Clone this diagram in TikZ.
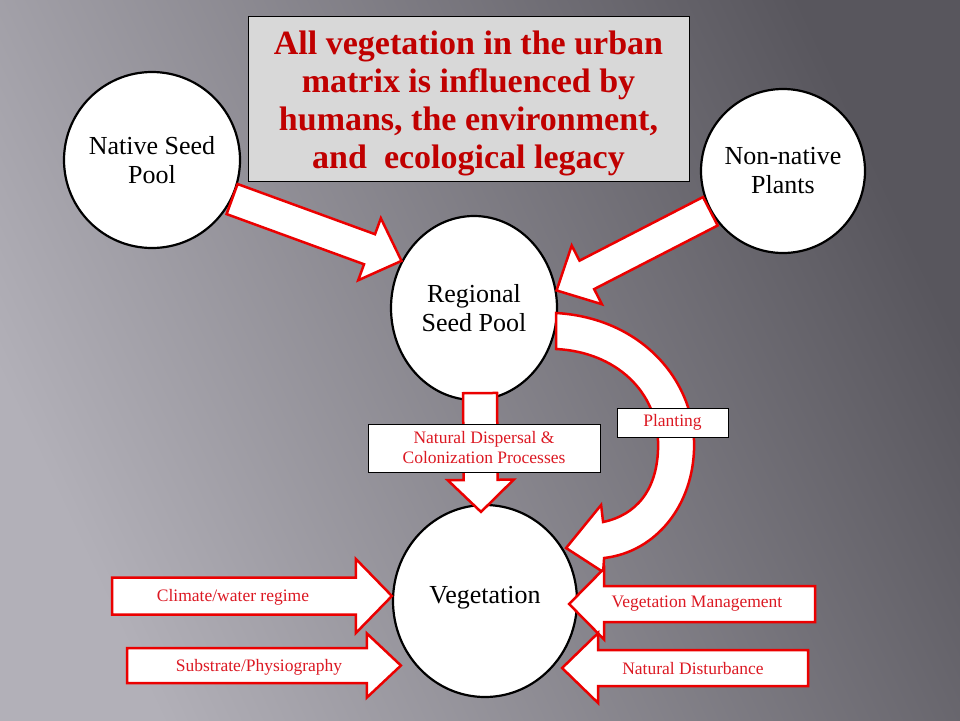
\documentclass[tikz,border=0pt]{standalone}
\usepackage{fontspec}
\setmainfont{Liberation Serif}
\usetikzlibrary{calc,shapes.geometric}

\definecolor{titlered}{RGB}{192,0,0}
\definecolor{linered}{RGB}{235,0,0}
\definecolor{textred}{RGB}{220,25,35}
\definecolor{boxgray}{RGB}{216,216,216}
\definecolor{bglight}{RGB}{178,176,184}
\definecolor{bgdark}{RGB}{88,86,93}

% 粗箭头: 起点, 箭尖, 杆半宽, 头半宽, 头长
\newcommand{\fatarrow}[5]{%
  \coordinate (fa-h) at ($(#2)!#5!(#1)$);
  \draw[blockarrow] ($(#1)!#3!90:(#2)$) -- ($(fa-h)!#3!-90:(#1)$) -- ($(fa-h)!#4!-90:(#1)$)
    -- (#2) -- ($(fa-h)!#4!90:(#1)$) -- ($(fa-h)!#3!90:(#1)$) -- ($(#1)!#3!-90:(#2)$) -- cycle;
}

\begin{document}
\begin{tikzpicture}[x=1pt,y=-1pt, % 像素坐标
  pool/.style={circle, draw=black, line width=2.2pt, fill=white, inner sep=0pt,
    align=center, font=\fontsize{26}{29}\selectfont},
  oval/.style={ellipse, draw=black, line width=2.2pt, fill=white, inner sep=0pt,
    align=center, font=\fontsize{26}{29}\selectfont},
  blockarrow/.style={draw=linered, line width=2.5pt, fill=white, line join=miter},
  tag/.style={draw=black, line width=1pt, fill=white, text=textred, inner sep=0pt,
    align=center, font=\fontsize{17.5}{20}\selectfont},
  armtext/.style={text=textred, font=\fontsize{17.5}{20}\selectfont},
]
  \useasboundingbox (0,0) rectangle (960,720);
  \shade[left color=bglight, right color=bgdark, shading angle=115] (0,0) rectangle (960,720);

  \node[draw=black, line width=0.8pt, fill=boxgray, minimum width=441, minimum height=165] (title) at (468.5,98.5) {};
  \node[text=titlered, align=center, font=\fontsize{34}{38}\selectfont\bfseries] (titletext)
    at ([yshift=-5pt]title.center)
    {All vegetation in the urban\\matrix is influenced by\\humans, the environment,\\and\ \ ecological legacy};

  \node[pool, minimum size=176] (native) at (152,160) {Native Seed\\Pool};
  \node[pool, minimum size=164] (nonnative) at (783,171) {Non-native\\Plants};
  \node[oval, minimum width=166, minimum height=184] (regional) at (474,308) {Regional\\Seed Pool};
  \node[oval, minimum width=184, minimum height=192] (vegetation) at (485,601) {};
  \node[font=\fontsize{26}{29}\selectfont] (vegtext) at ([yshift=3pt]vegetation.center) {Vegetation};

  \fatarrow{native.-26}{regional.147}{16pt}{33pt}{34pt}
  \fatarrow{nonnative.-151}{regional.12}{16pt}{33pt}{34pt}
  \fatarrow{$(regional.south)+(6,-8)$}{$(vegetation.north)+(-4,8)$}{17pt}{33pt}{32pt}

  % 种植 弯箭头
  \begin{scope}[shift={(regional.east)}]
    \draw[blockarrow] (-2,5) .. controls (83,10) and (136,72) .. (136,137)
      .. controls (136,197) and (98,244) .. (46,250) -- (45,264) -- (8,240) -- (43,197) -- (45,214)
      .. controls (78,207) and (100,182) .. (100,137) .. controls (100,84) and (58,44) .. (-2,41) -- cycle;
  \end{scope}

  \node[tag, minimum width=232, minimum height=48] (dispersal) at (484,448)
    {Natural Dispersal \&\\Colonization Processes};
  \node[tag, minimum width=111, minimum height=29] (planting) at (672.5,422.5) {Planting};

  \coordinate (climate) at (112,596);
  \coordinate (substrate) at (127,665.5);
  \coordinate (management) at (815,604);
  \coordinate (disturbance) at (808,668);
  \fatarrow{climate}{climate -| vegetation.west}{18.5pt}{37pt}{36pt}
  \fatarrow{substrate}{$(substrate -| vegetation.west)+(9,0)$}{17.5pt}{32pt}{34pt}
  \fatarrow{management}{$(management -| vegetation.east)+(-9,0)$}{18pt}{35.5pt}{35pt}
  \fatarrow{disturbance}{$(disturbance -| vegetation.east)+(-16,0)$}{18pt}{35pt}{36pt}

  \node[armtext] (climatetext) at (233,597) {Climate/water regime};
  \node[armtext] (substratetext) at (259,667) {Substrate/Physiography};
  \node[armtext] (managementtext) at (697,604) {Vegetation Management};
  \node[armtext] (disturbancetext) at (693,669) {Natural Disturbance};
\end{tikzpicture}
\end{document}
